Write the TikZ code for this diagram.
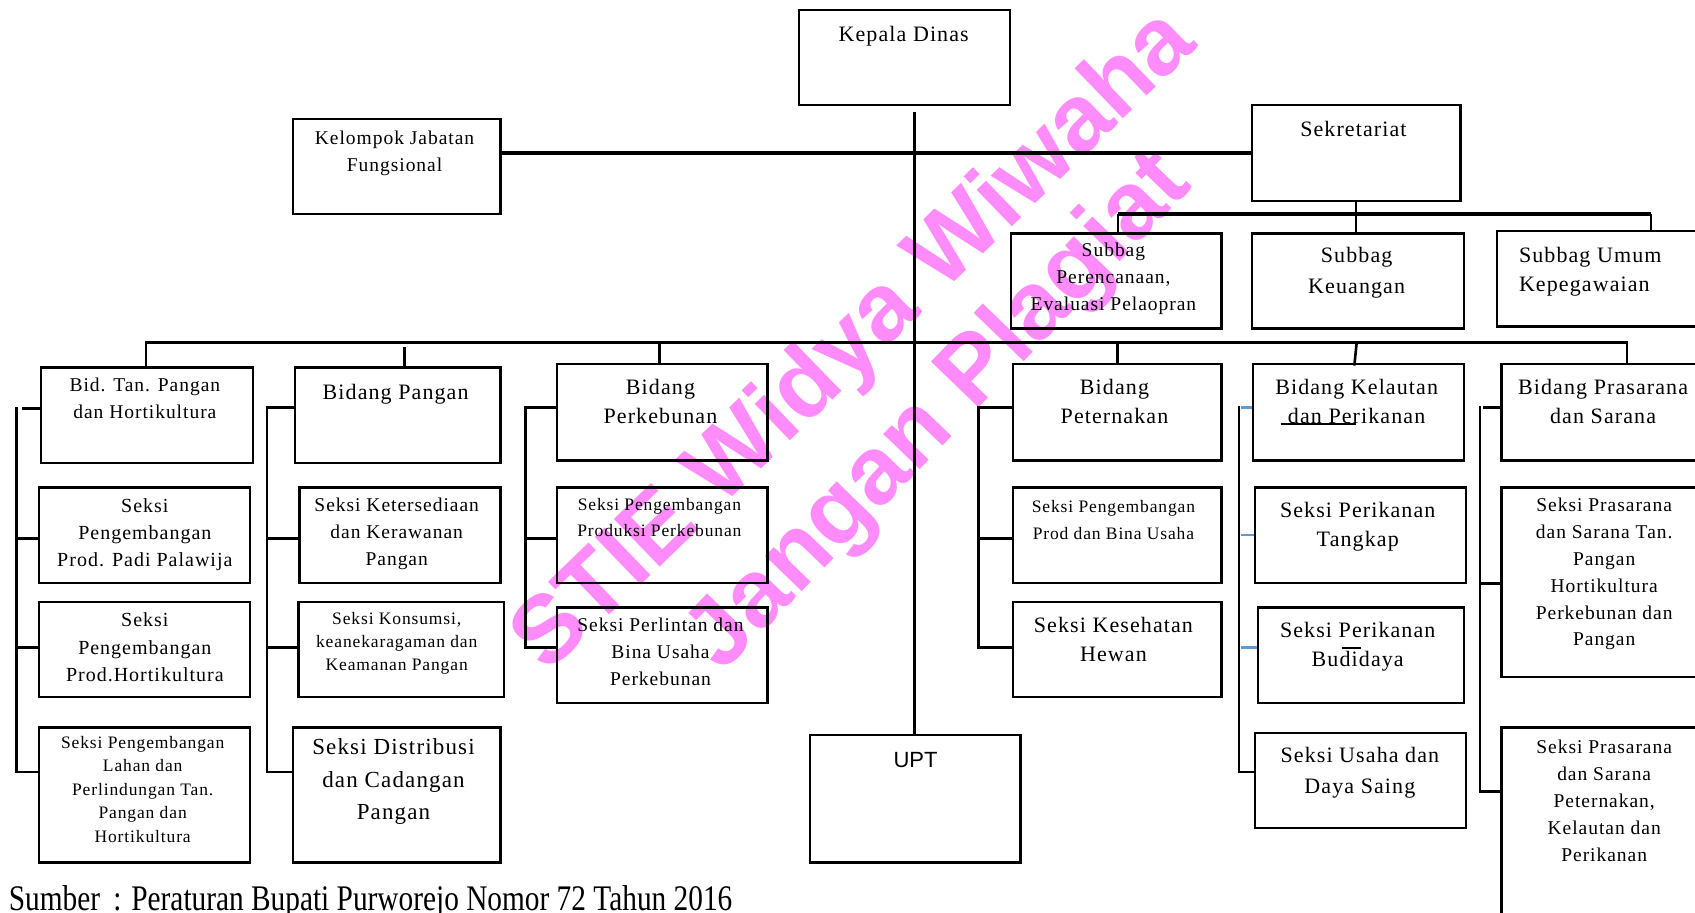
\documentclass[tikz,border=0pt]{standalone}
\usepackage{fontspec}
\setmainfont{Liberation Serif}[LetterSpace=5]
\newfontfamily\footfont{Liberation Serif}[FakeStretch=0.815]
\newfontfamily\upfont{Liberation Sans}
\newfontfamily\wmfont{Liberation Sans}
\usetikzlibrary{fit}
\definecolor{wmpink}{RGB}{255,140,250}
\definecolor{tickblue}{RGB}{91,155,213}
\newcommand\mkbox[5]{\node[box, fit={(#2,#3) (#4,#5)}] (#1) {};}
\newcommand\mktext[5]{\node[#4, anchor=north] (#1) at (#2,#3+2) {#5};}
\newcommand\tick[3]{\coordinate (#1) at (#2); \draw[conn] (#1) -- (#1 -| #3.west);}
\tikzset{
  box/.style={draw, line width=2.3pt, inner sep=0pt},
  tx/.style 2 args={font=\fontsize{#1}{#2}\selectfont, align=center, inner sep=0pt},
  conn/.style={line width=2.6pt, line cap=rect},
  thinconn/.style={line width=2.2pt},
  thickconn/.style={line width=3.6pt},
  wm/.style={font=\wmfont\bfseries\fontsize{96}{96}\selectfont, text=wmpink, inner sep=0pt},
}
\begin{document}
\begin{tikzpicture}[x=1.081pt, y=-1.081pt]
\useasboundingbox (0,0) rectangle (1568,844);
% watermark (behind)
\node[wm, rotate=44] (wm1) at (792,317) {STIE Widya Wiwaha};
\node[wm, rotate=46] (wm2) at (870,382) {Jangan Plagiat};

% top level
\mkbox{kd}{739}{9}{934}{97}
\mktext{kdT}{836}{21.8}{tx={22}{27}}{Kepala Dinas}
\mkbox{kjf}{271}{110}{463}{198}
\mktext{kjfT}{365}{119}{tx={19.5}{27}}{Kelompok Jabatan\\Fungsional}
\mkbox{sek}{1158}{97}{1351}{186}
\mktext{sekT}{1252}{109.8}{tx={22}{27}}{Sekretariat}

\mkbox{sp}{935}{216}{1130}{304}
\mktext{spT}{1030}{222.9}{tx={19.5}{27}}{Subbag\\Perencanaan,\\Evaluasi Pelaopran}
\mkbox{sk}{1158}{216}{1354}{304}
\mktext{skT}{1255}{226.8}{tx={22}{31}}{Subbag\\Keuangan}
\mkbox{su}{1385}{214}{1580}{302}
\node[tx={22}{29}, align=left, anchor=north west] (suT) at (1405,228.8) {Subbag Umum\\Kepegawaian};

% bidang row
\mkbox{btp}{38}{340}{234}{428}
\mktext{btpT}{134}{347.9}{tx={19.5}{27}}{Bid. Tan. Pangan\\dan Hortikultura}
\mkbox{bp}{273}{340}{463}{428}
\mktext{bpT}{366}{352.8}{tx={22}{29}}{Bidang Pangan}
\mkbox{bpk}{515}{337}{710}{426}
\mktext{bpkT}{611}{348.8}{tx={22}{29}}{Bidang\\Perkebunan}
\mkbox{bpt}{937}{337}{1130}{426}
\mktext{bptT}{1031}{348.8}{tx={22}{29}}{Bidang\\Peternakan}
\mkbox{bkp}{1159}{337}{1354}{426}
\mktext{bkpT}{1255}{348.8}{tx={22}{29}}{Bidang Kelautan\\dan Perikanan}
\mkbox{bps}{1389}{337}{1580}{426}
\mktext{bpsT}{1483}{348.8}{tx={22}{29}}{Bidang Prasarana\\dan Sarana}

% column 1
\mkbox{s11}{36}{451}{231}{539}
\mktext{s11T}{134}{458.7}{tx={20}{27}}{Seksi\\Pengembangan\\Prod. Padi Palawija}
\mkbox{s12}{36}{557}{231}{645}
\mktext{s12T}{134}{564.7}{tx={20}{27.5}}{Seksi\\Pengembangan\\Prod.Hortikultura}
\mkbox{s13}{36}{673}{231}{798}
\mktext{s13T}{132}{678.7}{tx={17.5}{23.5}}{Seksi Pengembangan\\Lahan dan\\Perlindungan Tan.\\Pangan dan\\Hortikultura}

% column 2
\mkbox{s21}{277}{451}{463}{539}
\mktext{s21T}{367}{458.9}{tx={19.5}{27}}{Seksi Ketersediaan\\dan Kerawanan\\Pangan}
\mkbox{s22}{276}{557}{466}{645}
\mktext{s22T}{367}{564.7}{tx={17.5}{23}}{Seksi Konsumsi,\\keanekaragaman dan\\Keamanan Pangan}
\mkbox{s23}{271}{673}{463}{798}
\mktext{s23T}{364}{681.4}{tx={23}{32.4}}{Seksi Distribusi\\dan Cadangan\\Pangan}

% column 3
\mkbox{s31}{515}{451}{710}{539}
\mktext{s31T}{610}{458.7}{tx={17.5}{26}}{Seksi Pengembangan\\Produksi Perkebunan}
\mkbox{s32}{515}{562}{710}{650}
\mktext{s32T}{611}{569.9}{tx={19.5}{27}}{Seksi Perlintan dan\\Bina Usaha\\Perkebunan}

% UPT
\mkbox{upt}{749}{680}{944}{798}
\node[font=\upfont\fontsize{22}{22}\selectfont, inner sep=0pt, anchor=north] (uptT) at (847,696) {UPT};

% column peternakan
\mkbox{s41}{937}{451}{1130}{539}
\mktext{s41T}{1030}{460.7}{tx={17.5}{27}}{Seksi Pengembangan\\Prod dan Bina Usaha}
\mkbox{s42}{937}{557}{1130}{645}
\mktext{s42T}{1030}{568.8}{tx={22}{29}}{Seksi Kesehatan\\Hewan}

% column kelautan
\mkbox{s51}{1161}{451}{1356}{539}
\mktext{s51T}{1256}{462.8}{tx={22}{29}}{Seksi Perikanan\\Tangkap}
\mkbox{s52}{1164}{562}{1354}{650}
\mktext{s52T}{1256}{573.8}{tx={22}{29}}{Seksi Perikanan\\Budidaya}
\mkbox{s53}{1161}{678}{1356}{766}
\mktext{s53T}{1258}{688.8}{tx={22}{31}}{Seksi Usaha dan\\Daya Saing}

% column prasarana
\mkbox{s61}{1389}{451}{1580}{626}
\mktext{s61T}{1484}{458.9}{tx={19.5}{26.8}}{Seksi Prasarana\\dan Sarana Tan.\\Pangan\\Hortikultura\\Perkebunan dan\\Pangan}
\mkbox{s62}{1389}{673}{1580}{880}
\mktext{s62T}{1484}{681.9}{tx={19.5}{27}}{Seksi Prasarana\\dan Sarana\\Peternakan,\\Kelautan dan\\Perikanan}

% ---- connectors ----
\coordinate (kdv) at (846,104);
\draw[thinconn] (kdv) -- (kdv |- upt.north);
\draw[thickconn] (kjf.east |- sek.west) -- (sek.west);
\draw[thinconn] (sek.south) -- (sek.south |- sk.north);
\coordinate (sbL) at (1034,198); \coordinate (sbR) at (1527,198);
\draw[thickconn] (sbL) -- (sbR);
\draw[thinconn] (sbL) -- (sbL |- sp.north);
\draw[thinconn] (sbR) -- (sbR |- su.north);

\coordinate (busL) at (135,317); \coordinate (busR) at (1505,317);
\draw[line width=2.4pt] (busL) -- (busR);
\draw[conn] (busL) -- (busL |- btp.north);
\coordinate (vbp) at (374,322); \draw[conn] (vbp) -- (vbp |- bp.north);
\coordinate (vbpk) at (610,317); \draw[conn] (vbpk) -- (vbpk |- bpk.north);
\coordinate (vbpt) at (1034,317); \draw[conn] (vbpt) -- (vbpt |- bpt.north);
\coordinate (vbkp) at (1255,317); \coordinate (vbkq) at (1253,337); \draw[conn] (vbkp) -- (vbkq);
\draw[conn] (busR) -- (busR |- bps.north);

% column 1 bracket
\coordinate (c1t) at (15,378); \coordinate (c1b) at (15,714);
\draw[conn] (c1t) -- (c1b);
\coordinate (c1h) at (22,378); \draw[conn] (c1h) -- (c1h -| btp.west);
\tick{k12}{15,498}{s11}
\tick{k13}{15,599}{s12}
\tick{k14}{15,714}{s13}
% column 2 bracket
\coordinate (c2t) at (247,377); \coordinate (c2b) at (247,714);
\draw[conn] (c2t) -- (c2b);
\tick{k21}{247,377}{bp}
\tick{k22}{247,498}{s21}
\tick{k23}{247,599}{s22}
\tick{k24}{247,714}{s23}
% column 3 bracket
\coordinate (c3t) at (486,377); \coordinate (c3b) at (486,599);
\draw[conn] (c3t) -- (c3b);
\tick{k31}{486,377}{bpk}
\tick{k32}{486,498}{s31}
\tick{k33}{486,599}{s32}
% column peternakan bracket
\coordinate (c4t) at (905,377); \coordinate (c4b) at (905,599);
\draw[conn] (c4t) -- (c4b);
\tick{k41}{905,377}{bpt}
\tick{k42}{905,498}{s41}
\tick{k43}{905,599}{s42}
% column kelautan bracket
\coordinate (c5t) at (1146,377); \coordinate (c5b) at (1146,714);
\draw[conn] (c5t) -- (c5b);
\coordinate (k51) at (1148,377); \draw[line width=2.2pt, tickblue] (k51) -- (k51 -| bkp.west);
\coordinate (k52) at (1148,495); \draw[line width=2.2pt, tickblue] (k52) -- (k52 -| s51.west);
\coordinate (k53) at (1148,599); \draw[line width=2.2pt, tickblue] (k53) -- (k53 -| s52.west);
\tick{k54}{1146,714}{s53}
% column prasarana bracket
\coordinate (c6t) at (1369,377); \coordinate (c6b) at (1369,732);
\draw[conn] (c6t) -- (c6b);
\coordinate (k61) at (1373,377); \draw[conn] (k61) -- (k61 -| bps.west);
\tick{k62}{1369,540}{s61}
\tick{k63}{1369,732}{s62}

% stray marks
\coordinate (m1a) at (1185,392); \coordinate (m1b) at (1254,392);
\draw[line width=2pt] (m1a) -- (m1b);
\coordinate (m2a) at (1241,599); \coordinate (m2b) at (1259,599);
\draw[line width=2pt] (m2a) -- (m2b);

% source
\node[anchor=base west, font=\footfont\fontsize{36}{36}\selectfont, inner sep=0pt] (src) at (8,842) {Sumber \,: Peraturan Bupati Purworejo Nomor 72 Tahun 2016};
\end{tikzpicture}
\end{document}
